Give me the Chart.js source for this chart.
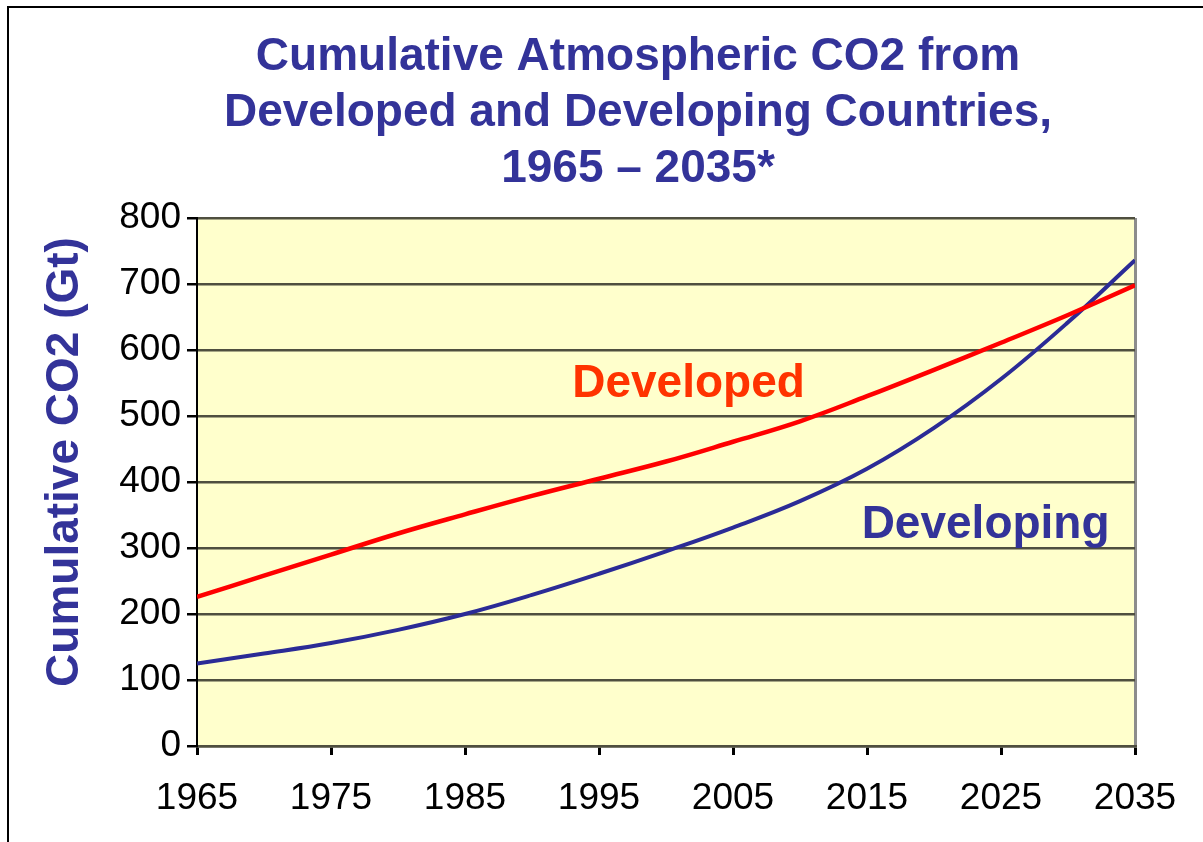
<!DOCTYPE html>
<html>
<head>
<meta charset="utf-8">
<title>Cumulative Atmospheric CO2</title>
<script src="https://cdn.jsdelivr.net/npm/chart.js@4.4.1/dist/chart.umd.min.js"></script>
<style>
    html, body { margin: 0; padding: 0; background: #fff; }
    #wrap { position: relative; width: 1203px; height: 842px; }
    #frame { position: absolute; left: 7px; top: 6px; right: -10px; bottom: -10px;
             border-left: 2px solid #000; border-top: 2px solid #000; pointer-events: none; }
</style>
</head>
<body>
<div id="wrap">
    <canvas id="co2Chart" width="1203" height="842"></canvas>
    <div id="frame"></div>
</div>
<script>
// data (Gt, cumulative)
const years = [1965, 1970, 1975, 1980, 1985, 1990, 1995, 2000, 2005, 2010, 2015, 2020, 2025, 2030, 2035];
const developed = [226, 258, 290, 322, 351, 379, 405, 431, 461, 492, 530, 570, 611, 653, 698];
const developing = [125, 140, 156, 176, 200, 229, 261, 295, 331, 371, 420, 482, 556, 642, 736];

const titleLines = ['Cumulative Atmospheric CO2 from', 'Developed and Developing Countries,', '1965 \u2013 2035*'];
const yAxisTitle = 'Cumulative CO2 (Gt)';
const seriesLabels = [
    { text: 'Developed', year: 1993.0, value: 529, color: '#FF3300' },
    { text: 'Developing', year: 2014.6, value: 315, color: '#333399' }
];

const FONT = '"Liberation Sans", Arial, sans-serif';
const BLUE = '#333399';
const GRID = '#4f4f3f';

// yellow plot background
const plotBackground = {
    id: 'plotBackground',
    beforeDraw(chart) {
        const { ctx, chartArea: a } = chart;
        ctx.save();
        ctx.fillStyle = '#FFFFCC';
        ctx.fillRect(a.left, a.top, a.right - a.left, a.bottom - a.top);
        ctx.restore();
    }
};

// title, rotated y title and the in-chart series names
const chartTexts = {
    id: 'chartTexts',
    afterDraw(chart) {
        const { ctx, scales } = chart;
        ctx.save();
        ctx.fillStyle = BLUE;
        ctx.font = 'bold 46px ' + FONT;
        ctx.textAlign = 'center';
        ctx.textBaseline = 'alphabetic';
        titleLines.forEach((line, i) => ctx.fillText(line, 638, 70 + i * 56));

        ctx.save();
        ctx.translate(65, 462);
        ctx.rotate(-Math.PI / 2);
        ctx.textBaseline = 'middle';
        ctx.fillText(yAxisTitle, 0, 0);
        ctx.restore();

        ctx.textAlign = 'left';
        seriesLabels.forEach(l => {
            ctx.fillStyle = l.color;
            ctx.fillText(l.text, scales.x.getPixelForValue(l.year), scales.y.getPixelForValue(l.value));
        });
        ctx.restore();
    }
};

function toPoints(values) {
    return years.map((y, i) => ({ x: y, y: values[i] }));
}

document.addEventListener('DOMContentLoaded', () => {
    const ctx = document.getElementById('co2Chart').getContext('2d');
    new Chart(ctx, {
        type: 'line',
        data: {
            datasets: [
                { label: 'Developed', data: toPoints(developed), borderColor: '#FF0000', borderWidth: 4.5,
                  pointRadius: 0, tension: 0.4 },
                { label: 'Developing', data: toPoints(developing), borderColor: '#2B2B96', borderWidth: 4,
                  pointRadius: 0, tension: 0.4 }
            ]
        },
        options: {
            responsive: false,
            animation: false,
            layout: { padding: { top: 218, right: 68, left: 0, bottom: 0 } },
            plugins: { legend: { display: false }, title: { display: false }, tooltip: { enabled: false } },
            scales: {
                x: {
                    type: 'linear', min: 1965, max: 2035,
                    afterFit: s => { s.height = 96; },
                    ticks: { stepSize: 10, padding: 22, color: '#000', font: { family: FONT, size: 37 },
                             callback: v => String(v) },
                    grid: { drawOnChartArea: true, tickLength: 9, lineWidth: 3, tickColor: '#000',
                            color: c => (c.tick && c.tick.value === 2035) ? '#8c8c8c' : 'rgba(0,0,0,0)' },
                    border: { color: GRID, width: 2.5 }
                },
                y: {
                    min: 0, max: 800,
                    afterFit: s => { s.width = 197; },
                    ticks: { stepSize: 100, padding: 6, color: '#000', font: { family: FONT, size: 37 } },
                    grid: { color: GRID, lineWidth: 2.5, tickLength: 10, tickColor: '#000' },
                    border: { color: '#000', width: 2 }
                }
            }
        },
        plugins: [plotBackground, chartTexts]
    });
});
</script>
</body>
</html>
